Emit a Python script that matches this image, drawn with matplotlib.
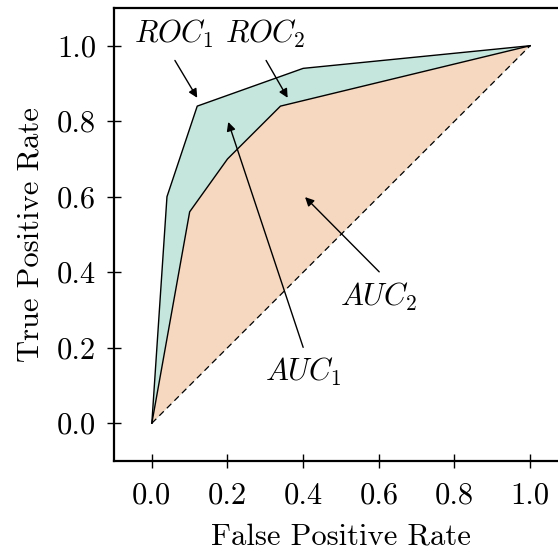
import numpy as np
import matplotlib
matplotlib.use("Agg")
import matplotlib.pyplot as plt

plt.rcParams['font.family'] = ['cmr10', 'DejaVu Serif']
plt.rcParams['mathtext.fontset'] = 'cm'
plt.rcParams['axes.formatter.use_mathtext'] = True

# ROC curves (false positive rate, true positive rate)
fpr_1 = [0.0, 0.04, 0.12, 0.40, 1.0]
tpr_1 = [0.0, 0.60, 0.84, 0.94, 1.0]
fpr_2 = [0.0, 0.10, 0.20, 0.34, 1.0]
tpr_2 = [0.0, 0.56, 0.70, 0.84, 1.0]
diag = [0.0, 1.0]
ticks = [0.0, 0.2, 0.4, 0.6, 0.8, 1.0]

green = '#c5e6dc'
orange = '#f6d7bf'

fig = plt.figure(figsize=(5.58, 5.53), dpi=100)
ax = fig.add_axes([0.2043, 0.1664, 0.8136, 0.8192])

# area under ROC1 (green) then ROC2 (orange) on top
ax.fill(fpr_1, tpr_1, color=green, lw=0)
ax.fill(fpr_2, tpr_2, color=orange, lw=0)
ax.plot(fpr_1, tpr_1, color='black', lw=1)
ax.plot(fpr_2, tpr_2, color='black', lw=1)
ax.plot(diag, diag, color='black', lw=0.9, ls=(0, (5, 3.5)))

arrow = dict(arrowstyle='-|>', color='black', lw=1, mutation_scale=13,
             shrinkA=0, shrinkB=0)
ax.annotate('', xy=(0.12, 0.862), xytext=(0.061, 0.961), arrowprops=arrow)
ax.annotate('', xy=(0.359, 0.862), xytext=(0.302, 0.961), arrowprops=arrow)
ax.annotate('', xy=(0.202, 0.798), xytext=(0.40, 0.201), arrowprops=arrow)
ax.annotate('', xy=(0.405, 0.599), xytext=(0.601, 0.401), arrowprops=arrow)

tsize = 22
ax.text(0.058, 1.032, r'$ROC_1$', fontsize=tsize, ha='center', va='center')
ax.text(0.30, 1.032, r'$ROC_2$', fontsize=tsize, ha='center', va='center')
ax.text(0.40, 0.136, r'$AUC_1$', fontsize=tsize, ha='center', va='center')
ax.text(0.60, 0.334, r'$AUC_2$', fontsize=tsize, ha='center', va='center')

ax.set_xlim(-0.1, 1.1)
ax.set_ylim(-0.1, 1.1)
ax.set_xticks(ticks)
ax.set_yticks(ticks)
ax.set_xticklabels([f'{t:.1f}' for t in ticks])
ax.set_yticklabels([f'{t:.1f}' for t in ticks])
ax.tick_params(direction='inout', length=10, width=1, labelsize=22, pad=8)
ax.tick_params(axis='x', pad=10)
for s in ax.spines.values():
    s.set_linewidth(1.6)

ax.set_xlabel('False Positive Rate', fontsize=22, labelpad=10)
ax.set_ylabel('True Positive Rate', fontsize=22, labelpad=9)

fig.savefig('out.png', dpi=100)
